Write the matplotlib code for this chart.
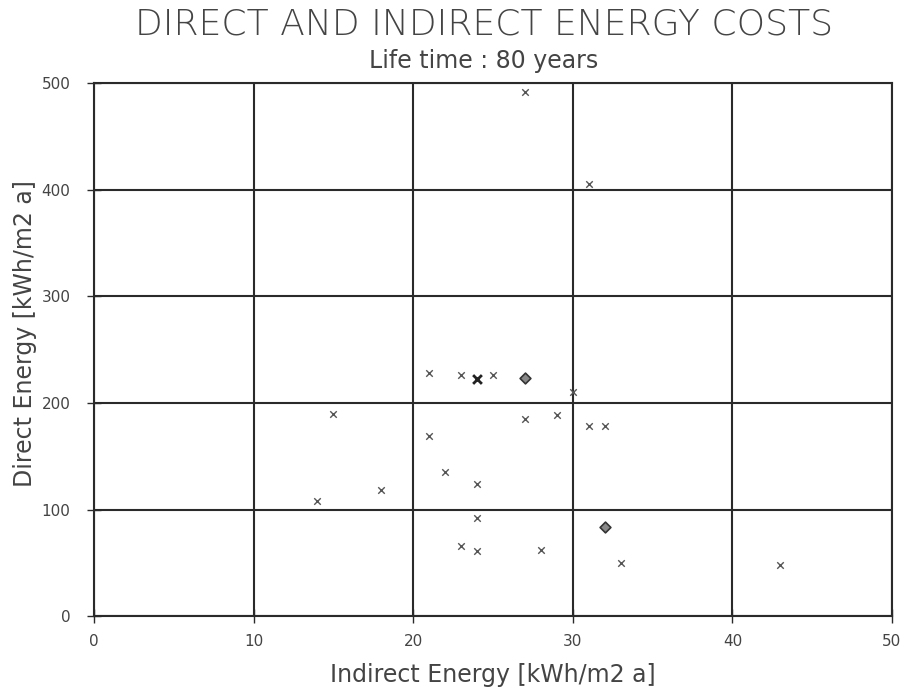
import matplotlib
matplotlib.use("Agg")
import matplotlib.pyplot as plt

# Data (Indirect energy x, Direct energy y), kWh/m2 a
indirect = [27, 31, 21, 23, 25, 30, 15, 27, 29, 31, 32, 21, 22, 24, 18, 14, 24, 23, 24, 28, 33, 43]
direct   = [492, 405, 228, 226, 226, 210, 190, 185, 189, 178, 178, 169, 135, 124, 118, 108, 92, 66, 61, 62, 50, 48]
bold_x = [24]
bold_y = [222]
diamond_x = [27, 32]
diamond_y = [223, 84]

xticks = [0, 10, 20, 30, 40, 50]
yticks = [0, 100, 200, 300, 400, 500]

plt.rcParams['font.family'] = ['DejaVu Sans']
fig = plt.figure(figsize=(9.04, 6.90), dpi=100)
ax = fig.add_axes([0.104, 0.107, 0.8827, 0.7727])

line_c = '#2a2a2a'
text_c = '#444444'

ax.set_xlim(0, 50)
ax.set_ylim(0, 500)
ax.set_xticks(xticks)
ax.set_yticks(yticks)
ax.grid(True, color=line_c, linewidth=1.5)
ax.set_axisbelow(True)
for s in ax.spines.values():
    s.set_color(line_c)
    s.set_linewidth(1.5)

ax.tick_params(axis='both', direction='inout', length=10, width=1.0, color=line_c,
               labelcolor=text_c, labelsize=11)
ax.tick_params(axis='y', pad=12)
ax.tick_params(axis='x', pad=8)

ax.scatter(indirect, direct, marker='x', s=22, color='#555555', linewidths=1.0, zorder=3)
ax.scatter(bold_x, bold_y, marker='x', s=40, color='#222222', linewidths=2.0, zorder=3)
ax.scatter(diamond_x, diamond_y, marker='D', s=30, facecolor='#888888',
           edgecolor='#333333', linewidths=1.2, zorder=3)

ax.set_xlabel('Indirect Energy [kWh/m2 a]', fontsize=17, color=text_c, labelpad=10)
ax.set_ylabel('Direct Energy [kWh/m2 a]', fontsize=17, color=text_c)
ax.yaxis.set_label_coords(-0.071, 0.53)

fig.text(0.535, 0.965, 'DIRECT AND INDIRECT ENERGY COSTS', ha='center', va='center',
         fontsize=26, color=text_c, fontweight='light')
fig.text(0.535, 0.912, 'Life time : 80 years', ha='center', va='center',
         fontsize=17, color=text_c)

fig.savefig('out.png', dpi=100)
